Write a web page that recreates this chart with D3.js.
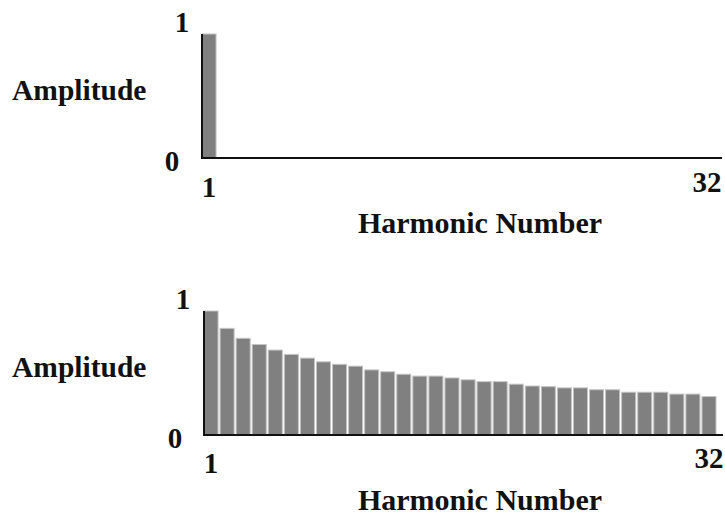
<!DOCTYPE html>
<html>
<head>
<meta charset="utf-8">
<script src="https://cdn.jsdelivr.net/npm/d3@7"></script>
<style>
  body { margin: 0; background: #fff; }
  text { font-family: "Times New Roman", "Liberation Serif", "DejaVu Serif", Times, serif; font-weight: bold; fill: #111; }
</style>
</head>
<body>
<div id="canvas"></div>
<script>
// harmonic numbers on the x axis
let harmonics = [1, 2, 3, 4, 5, 6, 7, 8, 9, 10, 11, 12, 13, 14, 15, 16,
  17, 18, 19, 20, 21, 22, 23, 24, 25, 26, 27, 28, 29, 30, 31, 32];

// top: only the fundamental
let topAmplitudes = [1, 0, 0, 0, 0, 0, 0, 0, 0, 0, 0, 0, 0, 0, 0, 0,
  0, 0, 0, 0, 0, 0, 0, 0, 0, 0, 0, 0, 0, 0, 0, 0];

// bottom: slowly falling harmonics
let bottomAmplitudes = [1, 0.86, 0.78, 0.73, 0.685, 0.65, 0.62, 0.59, 0.57, 0.555, 0.525, 0.51,
  0.49, 0.475, 0.475, 0.46, 0.445, 0.43, 0.43, 0.41, 0.395, 0.39, 0.38, 0.38,
  0.365, 0.365, 0.345, 0.345, 0.345, 0.33, 0.33, 0.31];

let yTickLabels = ["0", "1"];
let xTickLabels = ["1", "32"];
let yTitle = "Amplitude";
let xTitle = "Harmonic Number";

let width = 725;
let height = 519;

let svg = d3.select("#canvas")
  .append("svg")
  .attr("width", width)
  .attr("height", height);

let panels = [
  { values: topAmplitudes, x0: 202, x1: 714, axisEnd: 722, base: 158, top: 34,
    yLab: [172, 182], xLabDy: [39, 34], titleY: 100, xTitleY: 233 },
  { values: bottomAmplitudes, x0: 204, x1: 716, axisEnd: 723, base: 435, top: 311,
    yLab: [175, 183], xLabDy: [38, 33], titleY: 377, xTitleY: 510 }
];

panels.forEach(p => {
  let escalaX = d3.scaleBand()
    .domain(harmonics)
    .range([p.x0, p.x1])
    .paddingInner(0.125)
    .paddingOuter(0);
  let escalaY = d3.scaleLinear()
    .domain([0, 1])
    .range([p.base, p.top]);

  let g = svg.append("g");

  // bars
  g.selectAll("rect")
    .data(harmonics.filter((h, i) => p.values[i] > 0))
    .enter()
    .append("rect")
    .attr("x", h => escalaX(h))
    .attr("y", h => escalaY(p.values[h - 1]))
    .attr("width", escalaX.bandwidth())
    .attr("height", h => escalaY(0) - escalaY(p.values[h - 1]))
    .attr("fill", "#808080")
    .attr("stroke", "#c4c4c4")
    .attr("stroke-width", 1);

  // axis lines
  g.append("line")
    .attr("x1", p.x0).attr("x2", p.x0)
    .attr("y1", escalaY(1)).attr("y2", escalaY(0) + 1)
    .attr("stroke", "#111").attr("stroke-width", 2);
  g.append("line")
    .attr("x1", p.x0 - 1).attr("x2", p.axisEnd)
    .attr("y1", escalaY(0)).attr("y2", escalaY(0))
    .attr("stroke", "#111").attr("stroke-width", 2);

  // y tick labels
  g.append("text")
    .attr("x", p.yLab[0]).attr("y", escalaY(0) + 13)
    .attr("text-anchor", "middle").attr("font-size", 29)
    .text(yTickLabels[0]);
  g.append("text")
    .attr("x", p.yLab[1]).attr("y", escalaY(1) - 2)
    .attr("text-anchor", "middle").attr("font-size", 29)
    .text(yTickLabels[1]);

  // x tick labels
  g.append("text")
    .attr("x", escalaX(1) + escalaX.bandwidth() / 2).attr("y", escalaY(0) + p.xLabDy[0])
    .attr("text-anchor", "middle").attr("font-size", 29)
    .text(xTickLabels[0]);
  g.append("text")
    .attr("x", escalaX(32) + escalaX.bandwidth() / 2).attr("y", escalaY(0) + p.xLabDy[1])
    .attr("text-anchor", "middle").attr("font-size", 29)
    .text(xTickLabels[1]);

  // titles
  g.append("text")
    .attr("x", 12).attr("y", p.titleY)
    .attr("font-size", 29.5)
    .text(yTitle);
  g.append("text")
    .attr("x", 480).attr("y", p.xTitleY)
    .attr("text-anchor", "middle").attr("font-size", 30)
    .text(xTitle);
});
</script>
</body>
</html>
